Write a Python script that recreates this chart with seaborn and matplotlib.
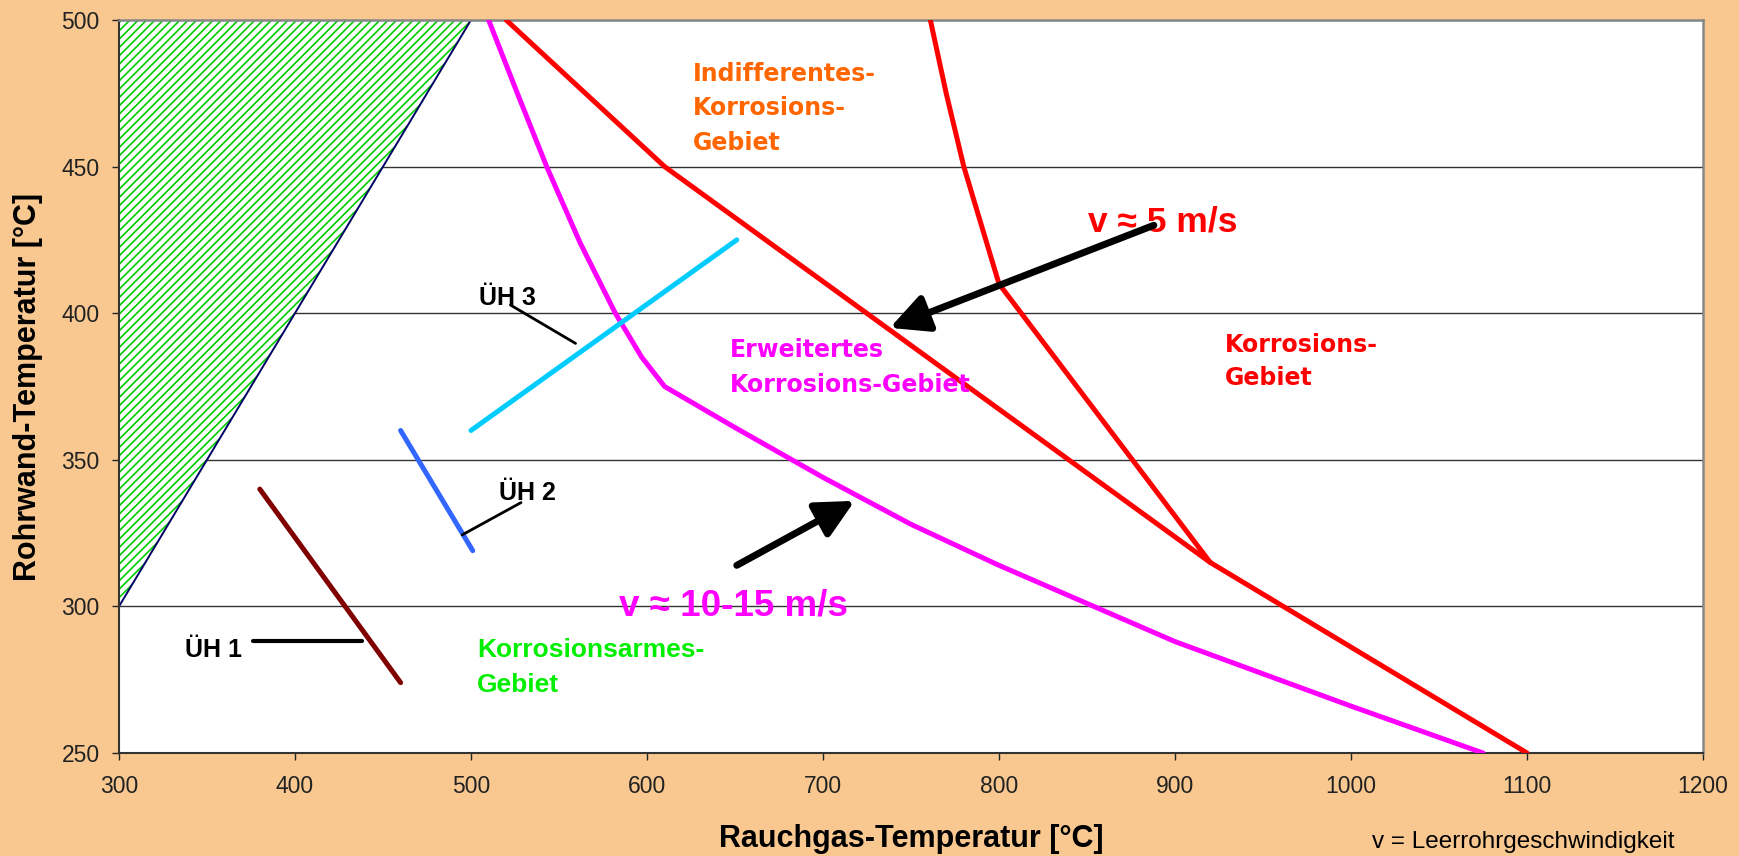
import matplotlib
matplotlib.use("Agg")
import matplotlib.pyplot as plt
import numpy as np
import pandas as pd
import seaborn as sns

# ---- data -------------------------------------------------------------
x_ticks = [300, 400, 500, 600, 700, 800, 900, 1000, 1100, 1200]
y_ticks = [250, 300, 350, 400, 450, 500]

# low-corrosion wedge (hatched)
zone_x = [300, 500, 300]
zone_y = [300, 500, 500]

# boundary v ~ 5 m/s (two red branches)
red_main_x = [520, 610, 920, 1100]
red_main_y = [500, 450, 315, 250]
red_steep_x = [761, 770, 780, 790, 800, 920]
red_steep_y = [500, 475, 450, 430, 410, 315]

# boundary v ~ 10-15 m/s
magenta_x = [510, 527, 543, 562, 582, 597, 610, 650, 700, 750, 800, 850, 900, 950, 1000, 1075]
magenta_y = [500, 474, 450, 424, 400, 385, 375, 361, 344, 328, 314, 301, 288, 277, 266, 250]

# superheater bundles
uh1_x, uh1_y = [380, 460], [340, 274]
uh2_x, uh2_y = [460, 501], [360, 319]
uh3_x, uh3_y = [500, 651], [360, 425]

# ---- style ------------------------------------------------------------
BG = "#F8C890"
GREEN = "#00CC00"
sns.set_theme(style="white")
plt.rcParams["font.family"] = ["Liberation Sans", "DejaVu Sans"]
plt.rcParams["hatch.linewidth"] = 1.2
plt.rcParams["hatch.color"] = GREEN

fig = plt.figure(figsize=(17.4, 8.56), dpi=100, facecolor=BG)
ax = fig.add_axes([119 / 1740, 1 - 753 / 856, 1584 / 1740, 733 / 856])
ax.set_facecolor("white")

# hatched wedge and its edge
ax.fill(zone_x, zone_y, facecolor="white", edgecolor=GREEN, hatch="////",
        linewidth=0, zorder=1)
ax.plot(zone_x[:2], zone_y[:2], color="#000066", lw=1.4, zorder=2)

LW = 3.6
curves = [
    (red_main_x, red_main_y, "#FF0000"),
    (red_steep_x, red_steep_y, "#FF0000"),
    (magenta_x, magenta_y, "#FF00FF"),
    (uh1_x, uh1_y, "#800000"),
    (uh2_x, uh2_y, "#3366FF"),
    (uh3_x, uh3_y, "#00CCFF"),
]
for cx, cy, col in curves:
    df = pd.DataFrame({"x": cx, "y": cy})
    sns.lineplot(data=df, x="x", y="y", sort=False, estimator=None,
                 color=col, linewidth=LW, ax=ax, zorder=3)

# leader lines for the bundle labels
ax.plot([376, 438], [288.3, 288.3], color="black", lw=3, zorder=4)
ax.plot([495, 528.4], [324.4, 335.4], color="black", lw=2, zorder=4)
ax.plot([522.4, 559.4], [402.8, 389.7], color="black", lw=2, zorder=4)

uh_font = dict(fontsize=18, fontweight="bold", color="black", ha="center",
               va="baseline", family="Liberation Sans", zorder=5)
ax.text(353.6, 282.6, "ÜH 1", **uh_font)
ax.text(532.3, 336.3, "ÜH 2", **uh_font)
ax.text(520.7, 402.8, "ÜH 3", **uh_font)

# region labels
reg = dict(fontsize=17, fontweight="bold", family="DejaVu Sans",
           ha="left", va="baseline", zorder=5)
for yy, s in zip([479.2, 467.6, 455.7], ["Indifferentes-", "Korrosions-", "Gebiet"]):
    ax.text(626.3, yy, s, color="#FF6600", **reg)
for yy, s in zip([384.9, 373.2], ["Erweitertes", "Korrosions-Gebiet"]):
    ax.text(647.1, yy, s, color="#FF00FF", **reg)
for yy, s in zip([386.9, 375.5], ["Korrosions-", "Gebiet"]):
    ax.text(928.5, yy, s, color="#FF0000", **reg)
for yy, s in zip([282.6, 270.9], ["Korrosionsarmes-", "Gebiet"]):
    ax.text(503.3, yy, s, color="#00EE00", fontsize=19, fontweight="bold",
            family="Liberation Sans", ha="left", va="baseline", zorder=5)

# velocity labels with arrows
ax.text(850.7, 427.8, "v ≈ 5 m/s", color="#FF0000", fontsize=25.5,
        fontweight="bold", family="Liberation Sans", ha="left", va="baseline", zorder=5)
ax.text(584, 297, "v ≈ 10-15 m/s", color="#FF00FF", fontsize=26.5,
        fontweight="bold", family="Liberation Sans", ha="left", va="baseline", zorder=2)
arrow = dict(arrowstyle="-|>,head_length=1.0,head_width=0.5", color="black",
             lw=5, mutation_scale=23, shrinkA=0, shrinkB=0)
ax.annotate("", xy=(738, 395), xytext=(888, 430), arrowprops=arrow, zorder=6)
ax.annotate("", xy=(718, 336), xytext=(651, 314), arrowprops=arrow, zorder=6)

# ---- axes -------------------------------------------------------------
ax.set_xlim(300, 1200)
ax.set_ylim(250, 500)
ax.set_xticks(x_ticks)
ax.set_yticks(y_ticks)
ax.tick_params(direction="out", length=5, width=1, colors="#222222",
               labelsize=16.5, bottom=True, left=True)
ax.tick_params(axis="x", pad=11)
ax.tick_params(axis="y", pad=9)
ax.set_axisbelow(True)
ax.yaxis.grid(True, color="#333333", lw=1)
ax.xaxis.grid(False)
for side in ("left", "bottom"):
    ax.spines[side].set_color("#333333")
    ax.spines[side].set_linewidth(1.5)
for side in ("top", "right"):
    ax.spines[side].set_color("#888888")
    ax.spines[side].set_linewidth(1.8)

ax.set_xlabel("Rauchgas-Temperatur [°C]", fontsize=22, fontweight="bold",
              color="black", va="center")
ax.xaxis.set_label_coords(0.5, -0.117)
ax.set_ylabel("Rohrwand-Temperatur [°C]", fontsize=22, fontweight="bold",
              color="black", va="center")
ax.yaxis.set_label_coords(-0.0574, 0.5)

fig.text(1372 / 1740, 1 - 848 / 856, "v = Leerrohrgeschwindigkeit",
         fontsize=17.5, color="black", ha="left", va="baseline")

fig.savefig("out.png", dpi=100, facecolor=BG)
